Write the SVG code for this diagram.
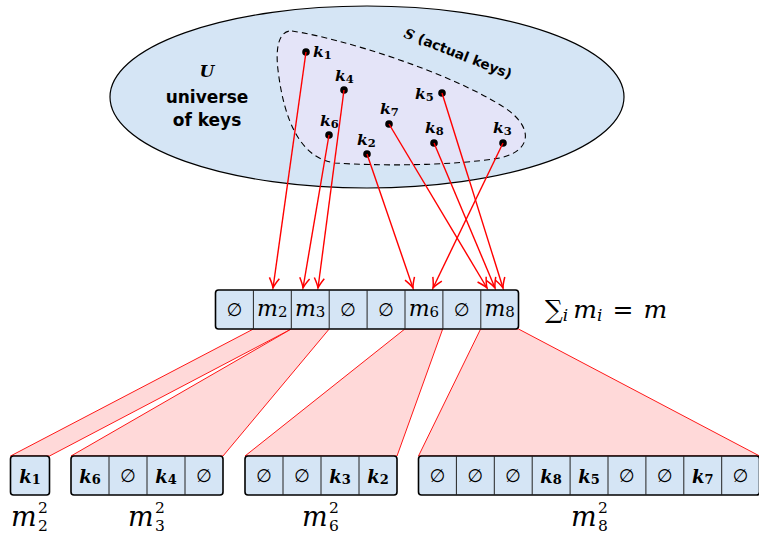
<svg xmlns="http://www.w3.org/2000/svg" width="759" height="535" viewBox="0 0 759 535">
<style>
.cell{fill:#d5e5f5;stroke:#000;stroke-width:1.6}
.dv{stroke:#222;stroke-width:1}
.fun{fill:#ffd9d9;stroke:#ff0000;stroke-width:0.9;stroke-linejoin:round}
.arr{stroke:#ff0000;stroke-width:1.4;fill:none}
.dot{fill:#000}
.e{font-family:"DejaVu Sans",sans-serif;font-size:18px;text-anchor:middle}
.m{font-family:"DejaVu Serif",serif;font-style:italic;font-size:22px;text-anchor:middle}
.mb{font-family:"DejaVu Serif",serif;font-style:italic;font-size:27px}
.sc{font-style:normal;font-size:15px}
.sc2{font-style:normal;font-size:15.5px}
.k{font-family:"DejaVu Serif",serif;font-style:italic;font-weight:bold;font-size:18px;text-anchor:middle}
.kl{font-family:"DejaVu Serif",serif;font-style:italic;font-weight:bold;font-size:15.5px}
.sub{font-style:normal;font-size:13px}
.subs{font-style:normal;font-size:11.5px}
.lbl{font-family:"DejaVu Sans",sans-serif;font-weight:bold;font-size:17px;text-anchor:middle}
</style>
<defs>
<marker id="ah" markerUnits="userSpaceOnUse" markerWidth="16" markerHeight="14" viewBox="-12 -7 13 14" refX="0" refY="0" orient="auto">
<path d="M-10,-5 Q-3.5,-1 0,0 Q-3.5,1 -10,5" fill="none" stroke="#ff0000" stroke-width="1.5"/>
</marker>
</defs>

<g id="universe">
<ellipse cx="367" cy="97" rx="257" ry="91" fill="#d5e5f5" stroke="#000" stroke-width="1.2"/>
<text x="207" y="77" text-anchor="middle" style="font-family:'DejaVu Serif',serif;font-style:italic;font-weight:bold;font-size:17px">U</text>
<text class="lbl" x="207" y="103">universe</text>
<text class="lbl" x="207" y="126">of keys</text>
</g>

<g id="actual-keys">
<path d="M292,31 C340,38 450,72 505,108 C532,126 534,150 500,158 C450,166 380,166 335,163 C300,158 284,120 278,70 C275,45 280,30 292,31 Z" fill="#e4e4f8" stroke="#000" stroke-width="1.1" stroke-dasharray="6,4"/>
<text x="403" y="37" transform="rotate(21.5 403 37)" style="font-family:'DejaVu Sans',sans-serif;font-weight:bold;font-size:13.7px"><tspan style="font-family:'DejaVu Serif',serif;font-style:italic">S</tspan> (actual keys)</text>
</g>

<g id="keys">
<g id="k1"><circle class="dot" cx="306" cy="52" r="3.8"/><text class="kl" x="313" y="57">k<tspan class="subs" dy="2">1</tspan></text></g>
<g id="k4"><circle class="dot" cx="344" cy="90" r="3.8"/><text class="kl" x="335" y="81">k<tspan class="subs" dy="2">4</tspan></text></g>
<g id="k5"><circle class="dot" cx="442" cy="93" r="3.8"/><text class="kl" x="415" y="99">k<tspan class="subs" dy="2">5</tspan></text></g>
<g id="k7"><circle class="dot" cx="389" cy="124" r="3.8"/><text class="kl" x="380" y="114">k<tspan class="subs" dy="2">7</tspan></text></g>
<g id="k6"><circle class="dot" cx="329" cy="135" r="3.8"/><text class="kl" x="320" y="126">k<tspan class="subs" dy="2">6</tspan></text></g>
<g id="k8"><circle class="dot" cx="434" cy="143" r="3.8"/><text class="kl" x="425" y="133">k<tspan class="subs" dy="2">8</tspan></text></g>
<g id="k3"><circle class="dot" cx="503" cy="143" r="3.8"/><text class="kl" x="493" y="133">k<tspan class="subs" dy="2">3</tspan></text></g>
<g id="k2"><circle class="dot" cx="367" cy="154" r="3.8"/><text class="kl" x="357" y="145">k<tspan class="subs" dy="2">2</tspan></text></g>
</g>

<g id="connectors">
<polygon class="fun" points="253.4,329 291.3,329 49.5,456 10.5,456"/>
<polygon class="fun" points="291.3,329 329.2,329 223,456 71,456"/>
<polygon class="fun" points="404.8,329 442.7,329 397,456 245,456"/>
<polygon class="fun" points="480.6,329 518.5,329 759.6,456 418.5,456"/>
<line class="arr" x1="306" y1="52" x2="273" y2="288" marker-end="url(#ah)"/>
<line class="arr" x1="344" y1="90" x2="318" y2="288" marker-end="url(#ah)"/>
<line class="arr" x1="329" y1="135" x2="303" y2="288" marker-end="url(#ah)"/>
<line class="arr" x1="367" y1="154" x2="413" y2="288" marker-end="url(#ah)"/>
<line class="arr" x1="389" y1="124" x2="487" y2="288" marker-end="url(#ah)"/>
<line class="arr" x1="434" y1="143" x2="495" y2="288" marker-end="url(#ah)"/>
<line class="arr" x1="442" y1="93" x2="503" y2="288" marker-end="url(#ah)"/>
<line class="arr" x1="503" y1="143" x2="433" y2="288" marker-end="url(#ah)"/>
</g>

<g id="table">
<rect class="cell" x="215.5" y="290" width="303" height="39" rx="3"/>
<path class="dv" d="M253.4,290V329M291.3,290V329M329.2,290V329M367.1,290V329M405,290V329M442.9,290V329M480.8,290V329"/>
<text class="e" x="234.5" y="316">∅</text>
<text class="m" x="272.3" y="316">m<tspan class="sc" dy="1">2</tspan></text>
<text class="m" x="310.2" y="316">m<tspan class="sc" dy="1">3</tspan></text>
<text class="e" x="348.1" y="316">∅</text>
<text class="e" x="386" y="316">∅</text>
<text class="m" x="423.9" y="316">m<tspan class="sc" dy="1">6</tspan></text>
<text class="e" x="461.8" y="316">∅</text>
<text class="m" x="499.7" y="316">m<tspan class="sc" dy="1">8</tspan></text>
</g>

<g id="sum">
<text x="545" y="318" style="font-family:'DejaVu Serif',serif;font-size:25px">∑<tspan style="font-style:italic;font-size:17px" dy="3">i</tspan><tspan style="font-style:italic" dy="-3" dx="5">m</tspan><tspan style="font-style:italic;font-size:17px" dy="3">i</tspan><tspan dy="-3" dx="10">=</tspan><tspan style="font-style:italic" dx="10">m</tspan></text>
</g>

<g id="array-m2">
<rect class="cell" x="10.5" y="456" width="39" height="39" rx="3"/>
<text class="k" x="30" y="483">k<tspan class="sub" dy="1">1</tspan></text>
<text class="mb" x="11" y="526">m<tspan class="sc2" x="38" y="513">2</tspan><tspan class="sc2" x="38" y="531">2</tspan></text>
</g>

<g id="array-m3">
<rect class="cell" x="71" y="456" width="152" height="39" rx="3"/>
<path class="dv" d="M109,456V495M147,456V495M185,456V495"/>
<text class="k" x="90" y="483">k<tspan class="sub" dy="1">6</tspan></text>
<text class="e" x="128" y="482">∅</text>
<text class="k" x="166" y="483">k<tspan class="sub" dy="1">4</tspan></text>
<text class="e" x="204" y="482">∅</text>
<text class="mb" x="128" y="526">m<tspan class="sc2" x="155" y="513">2</tspan><tspan class="sc2" x="155" y="531">3</tspan></text>
</g>

<g id="array-m6">
<rect class="cell" x="245" y="456" width="152" height="39" rx="3"/>
<path class="dv" d="M283,456V495M321,456V495M359,456V495"/>
<text class="e" x="264" y="482">∅</text>
<text class="e" x="302" y="482">∅</text>
<text class="k" x="340" y="483">k<tspan class="sub" dy="1">3</tspan></text>
<text class="k" x="378" y="483">k<tspan class="sub" dy="1">2</tspan></text>
<text class="mb" x="302" y="526">m<tspan class="sc2" x="329" y="513">2</tspan><tspan class="sc2" x="329" y="531">6</tspan></text>
</g>

<g id="array-m8">
<rect class="cell" x="418.5" y="456" width="341" height="39" rx="3"/>
<path class="dv" d="M456.4,456V495M494.3,456V495M532.2,456V495M570.1,456V495M608,456V495M645.9,456V495M683.8,456V495M721.7,456V495"/>
<text class="e" x="437.5" y="482">∅</text>
<text class="e" x="475.4" y="482">∅</text>
<text class="e" x="513.2" y="482">∅</text>
<text class="k" x="551.1" y="483">k<tspan class="sub" dy="1">8</tspan></text>
<text class="k" x="589" y="483">k<tspan class="sub" dy="1">5</tspan></text>
<text class="e" x="626.9" y="482">∅</text>
<text class="e" x="664.8" y="482">∅</text>
<text class="k" x="702.7" y="483">k<tspan class="sub" dy="1">7</tspan></text>
<text class="e" x="740.6" y="482">∅</text>
<text class="mb" x="571" y="526">m<tspan class="sc2" x="598" y="513">2</tspan><tspan class="sc2" x="598" y="531">8</tspan></text>
</g>
</svg>
